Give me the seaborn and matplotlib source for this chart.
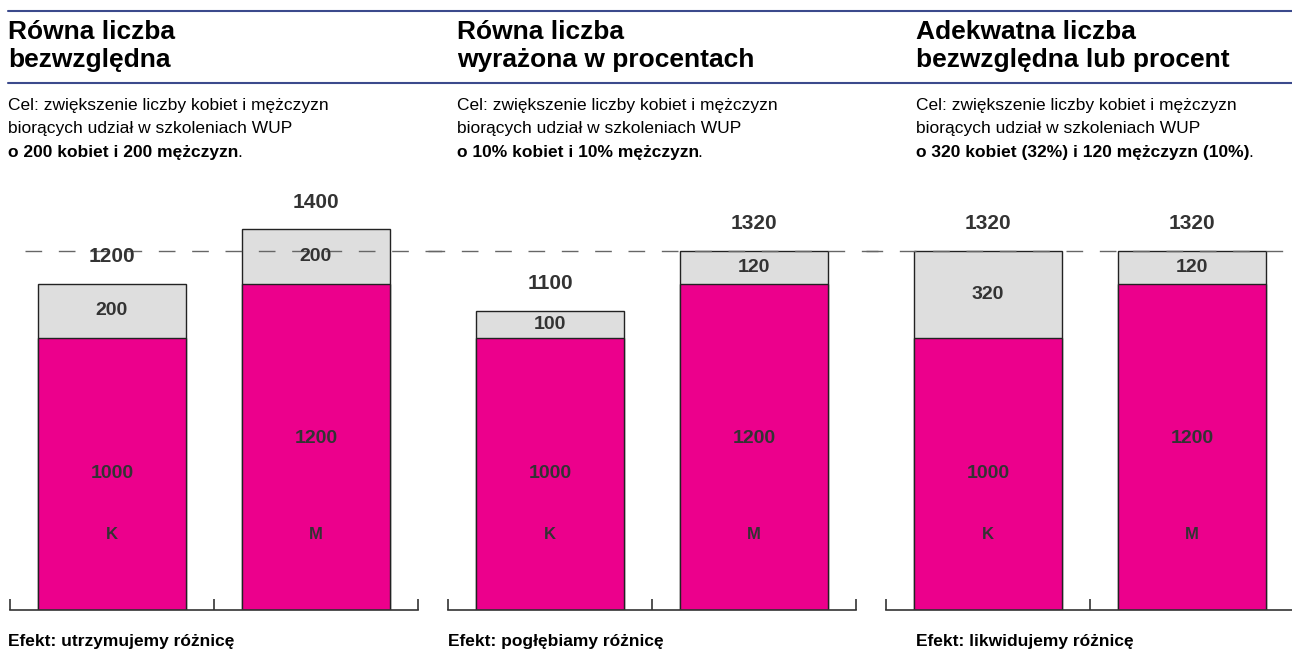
import matplotlib
matplotlib.use("Agg")
import matplotlib.pyplot as plt
import matplotlib.transforms as mtransforms
from matplotlib.lines import Line2D
import seaborn as sns
import pandas as pd

sns.set_style("white")
plt.rcParams['font.family'] = ['Liberation Sans', 'DejaVu Sans']

# ---- data ----
titles = ["Równa liczba\nbezwzględna",
          "Równa liczba\nwyrażona w procentach",
          "Adekwatna liczba\nbezwzględna lub procent"]
desc_lines = ["Cel: zwiększenie liczby kobiet i mężczyzn",
              "biorących udział w szkoleniach WUP"]
goals = ["o 200 kobiet i 200 mężczyzn",
         "o 10% kobiet i 10% mężczyzn",
         "o 320 kobiet (32%) i 120 mężczyzn (10%)"]
effects = ["Efekt: utrzymujemy różnicę",
           "Efekt: pogłębiamy różnicę",
           "Efekt: likwidujemy różnicę"]
groups = ["K", "M"]
base_k = [1000, 1000, 1000]
base_m = [1200, 1200, 1200]
add_k = [200, 100, 320]
add_m = [200, 120, 120]
reference_level = 1320

W, H = 1292, 663
fig = plt.figure(figsize=(W / 100, H / 100), dpi=100)

COND = ['Liberation Sans Narrow', 'Liberation Sans', 'DejaVu Sans']
PINK = '#EC008C'
GREY = '#DEDEDE'
TXT = '#333333'
BLUE = '#3B4A8C'

# horizontal rules
for yy in (11, 83):
    fig.add_artist(Line2D([8 / W, 1], [1 - yy / H] * 2, color=BLUE, lw=1.5))

title_x = [8, 457, 916]
foot_x = [8, 448, 916]

for i in range(3):
    ax = fig.add_axes([(10 + 438 * i) / W, 53 / H, 408 / W, 408 / H])
    base = [base_k[i], base_m[i]]
    add = [add_k[i], add_m[i]]
    total = [b + a for b, a in zip(base, add)]
    df = pd.DataFrame({"plec": groups, "base": base, "add": add, "total": total})
    sns.barplot(data=df, x="plec", y="total", color=GREY, saturation=1,
                edgecolor='#222222', linewidth=1, width=0.725, ax=ax)
    sns.barplot(data=df, x="plec", y="base", color=PINK, saturation=1,
                edgecolor='#222222', linewidth=1, width=0.725, ax=ax)
    ax.set_ylim(0, 1500)
    ax.set_xlim(-0.5, 1.5)
    ax.set_xlabel("")
    ax.set_ylabel("")
    ax.set_yticks([])
    ax.set_xticks([-0.5, 0.5, 1.5])
    ax.tick_params(axis='x', direction='in', length=8, width=1.2,
                   color=TXT, labelbottom=False, bottom=True)
    for s in ("left", "top", "right"):
        ax.spines[s].set_visible(False)
    ax.spines["bottom"].set_color(TXT)
    ax.spines["bottom"].set_linewidth(1.2)

    for j in range(2):
        ax.text(j, total[j] + 100, str(total[j]), ha='center', va='center',
                fontsize=15, fontweight='bold', color=TXT, zorder=6)
        ax.text(j, base[j] + add[j] / 2, str(add[j]), ha='center', va='center',
                fontsize=14, fontweight='bold', color=TXT, zorder=6)
        ax.text(j, base[j] / 2 + (30 if j == 1 else 0), str(base[j]),
                ha='center', va='center',
                fontsize=14, fontweight='bold', color=TXT, zorder=6)
        ax.text(j, 276, groups[j], ha='center', va='center',
                fontsize=12, fontweight='bold', color=TXT, zorder=6)

    # dashed reference line
    trans = mtransforms.blended_transform_factory(ax.transAxes, ax.transData)
    x0 = 15 / 408 if i == 0 else -0.05
    x1 = 1.0735 if i < 2 else 406 / 408
    ax.plot([x0, x1], [reference_level] * 2, transform=trans, clip_on=False,
            color='#666666', lw=1, dashes=(12, 12), zorder=5)

    # texts
    tx = title_x[i] / W
    fig.text(tx, 1 - 39 / H, titles[i].split("\n")[0], family=COND,
             fontsize=19, fontweight='bold', color='black', va='baseline')
    fig.text(tx, 1 - 67 / H, titles[i].split("\n")[1], family=COND,
             fontsize=19, fontweight='bold', color='black', va='baseline')
    fig.text(tx, 1 - 110 / H, desc_lines[0], family=COND, fontsize=12.5,
             color='black', va='baseline')
    fig.text(tx, 1 - 133 / H, desc_lines[1], family=COND, fontsize=12.5,
             color='black', va='baseline')
    t = fig.text(tx, 1 - 157 / H, goals[i], family=COND, fontsize=12.5,
                 fontweight='bold', color='black', va='baseline')
    plt.annotate(".", xy=(1, 0), xycoords=t, xytext=(-1, 0),
                 textcoords='offset points', family=COND, fontsize=12.5,
                 color='black', va='bottom', ha='left',
                 annotation_clip=False)
    fig.text(foot_x[i] / W, 1 - 646 / H, effects[i], family=COND,
             fontsize=12.5, fontweight='bold', color='black', va='baseline')

fig.savefig("out.png", dpi=100)
